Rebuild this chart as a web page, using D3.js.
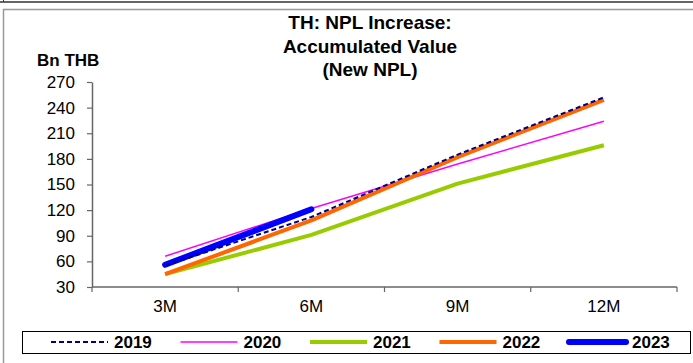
<!DOCTYPE html>
<html><head><meta charset="utf-8">
<script src="https://cdn.jsdelivr.net/npm/d3@7"></script>
<style>
html,body{margin:0;padding:0;background:#fff;}
svg text{font-family:"Liberation Sans",Arial,sans-serif;}
</style></head>
<body>
<svg id="chart" width="693" height="363"></svg>
<script>
const categories = ["3M","6M","9M","12M"];
const yTicks = [30,60,90,120,150,180,210,240,270];
const s2019 = [55,112,185,252];
const s2020 = [66,122,174,224];
const s2021 = [45,91,151,196];
const s2022 = [45,108,182,249];
const s2023 = [56,121];
const seriesNames = ["2019","2020","2021","2022","2023"];
const titleLines = ["TH: NPL Increase:","Accumulated Value","(New NPL)"];
const yLabel = "Bn THB";

const styles = {
  "2019": {color:"#000080", width:2, dash:"5,3", cap:"butt"},
  "2020": {color:"#FF00FF", width:1.5, dash:null, cap:"butt"},
  "2021": {color:"#99CC00", width:4, dash:null, cap:"butt"},
  "2022": {color:"#FF6600", width:4, dash:null, cap:"butt"},
  "2023": {color:"#0000FF", width:6, dash:null, cap:"round"}
};
const seriesData = {"2019":s2019,"2020":s2020,"2021":s2021,"2022":s2022,"2023":s2023};

const svg = d3.select("#chart");

// frames
svg.append("line").attr("x1",0).attr("x2",693).attr("y1",2).attr("y2",2).attr("stroke","#333").attr("stroke-width",1.5);
svg.append("line").attr("x1",3.5).attr("x2",3.5).attr("y1",0).attr("y2",2).attr("stroke","#333");
svg.append("rect").attr("x",3.5).attr("y",9.5).attr("width",700).attr("height",400)
  .attr("fill","none").attr("stroke","#999").attr("stroke-width",1.5);

const x = d3.scaleBand().domain(categories).range([92,677]);
const cx = c => x(c) + x.bandwidth()/2;
const y = d3.scaleLinear().domain([30,270]).range([287,82]);

// title
const t = svg.append("text").attr("text-anchor","middle").attr("font-weight","bold").attr("font-size",19).attr("fill","#000");
titleLines.forEach((l,i)=>{
  t.append("tspan").attr("x",370).attr("y",[29,53,76][i]).text(l);
});
svg.append("text").attr("x",37).attr("y",66).attr("font-weight","bold").attr("font-size",17).text(yLabel);

// y axis
const ya = svg.append("g").attr("transform","translate(92,0)")
  .call(d3.axisLeft(y).tickValues(yTicks).tickSize(5).tickSizeOuter(0).tickPadding(12));
ya.select(".domain").attr("stroke","#666").attr("stroke-width",1.5);
ya.selectAll(".tick line").attr("stroke","#666").attr("stroke-width",1.2);
ya.selectAll(".tick text").attr("font-size",17).attr("fill","#000").attr("font-family","Liberation Sans, Arial, sans-serif");

// x axis
const xa = svg.append("g");
xa.append("line").attr("x1",92).attr("x2",677).attr("y1",287).attr("y2",287).attr("stroke","#666").attr("stroke-width",1.5);
const bounds = categories.map(c=>x(c)).concat([x.range()[1]]);
xa.selectAll("line.tk").data(bounds).enter().append("line").attr("class","tk")
  .attr("x1",d=>d).attr("x2",d=>d).attr("y1",287).attr("y2",292).attr("stroke","#666").attr("stroke-width",1.2);
xa.selectAll("text").data(categories).enter().append("text")
  .attr("x",d=>cx(d)).attr("y",312).attr("text-anchor","middle").attr("font-size",17).text(d=>d);

// lines
const line = d3.line().x((d,i)=>cx(categories[i])).y(d=>y(d));
const order = ["2021","2020","2022","2023","2019"];
order.forEach(n=>{
  const st = styles[n];
  svg.append("path").datum(seriesData[n]).attr("d",line)
    .attr("fill","none").attr("stroke",st.color).attr("stroke-width",st.width)
    .attr("stroke-dasharray",st.dash).attr("stroke-linecap",st.cap).attr("stroke-linejoin","round");
});

// legend
svg.append("rect").attr("x",22.5).attr("y",331.5).attr("width",668).attr("height",22)
  .attr("fill","#fff").attr("stroke","#000").attr("stroke-width",1);
const lg = svg.append("g");
seriesNames.forEach((n,i)=>{
  const x0 = 51 + i*129.5;
  const st = styles[n];
  lg.append("line").attr("x1",x0).attr("x2",x0+57).attr("y1",342).attr("y2",342)
    .attr("stroke",st.color).attr("stroke-width",st.width).attr("stroke-dasharray",st.dash)
    .attr("stroke-linecap",st.cap==="round"?"round":"butt");
  lg.append("text").attr("x",x0+63).attr("y",348).attr("font-weight","bold").attr("font-size",17).text(n);
});
</script>
</body></html>
